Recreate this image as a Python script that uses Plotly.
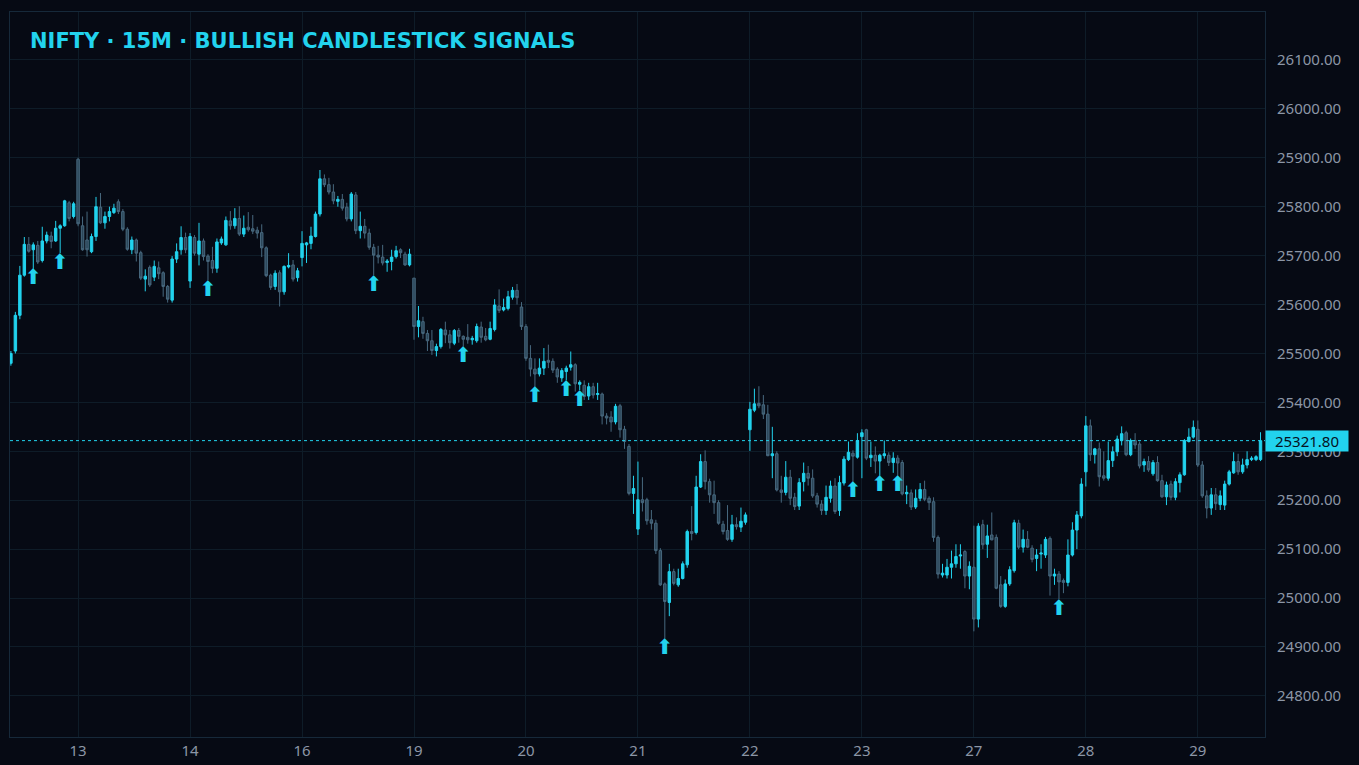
import plotly.graph_objects as go

# ---- data (NIFTY 15-minute candles) ----
day_labels = ["13", "14", "16", "19", "20", "21", "22", "23", "27", "28", "29"]
first_day_offset = 15      # candles of the partial session before the 13th
candles_per_day = 25

opens = [25480,25505,25578,25660,25723,25712,25721,25690,25730,25740,25730,25756,25761,25808,25780,
 25897,25761,25732,25708,25739,25799,25767,25780,25788,25810,25790,25754,25712,25732,25706,25652,25676,25656,25675,25665,25637,25609,25693,25712,25737,
 25648,25737,25703,25730,25699,25690,25674,25726,25722,25771,25761,25776,25744,25758,25755,25752,25747,25716,25660,25637,25665,25626,25677,25681,25655,
 25696,25722,25725,25739,25785,25857,25845,25830,25811,25815,25799,25775,25824,25751,25760,25746,25717,25701,25697,25686,25688,25698,25712,25703,25681,
 25654,25555,25565,25541,25526,25506,25514,25548,25538,25521,25547,25535,25533,25528,25526,25554,25535,25529,25549,25597,25589,25592,25615,25629,25595,
 25555,25490,25468,25458,25470,25486,25484,25468,25450,25463,25472,25477,25437,25435,25413,25432,25416,25417,25372,25370,25360,25393,25345,25310,25214,
 25141,25201,25201,25160,25153,25097,25029,24991,25054,25027,25040,25068,25136,25134,25227,25279,25238,25211,25195,25151,25138,25120,25150,25145,25155,
 25344,25384,25398,25395,25376,25291,25295,25221,25216,25247,25206,25188,25238,25255,25245,25209,25192,25179,25204,25229,25179,25235,25283,25296,25288,
 25330,25344,25287,25292,25280,25291,25292,25277,25286,25277,25213,25215,25186,25204,25222,25204,25197,25124,25047,25047,25063,25070,25086,25095,25045,
 25063,24957,25150,25110,25129,25124,25027,24983,25029,25056,25153,25104,25120,25102,25081,25090,25088,25122,25045,25049,25036,25032,25088,25139,25168,
 25258,25352,25293,25305,25250,25245,25281,25299,25322,25338,25293,25322,25315,25272,25279,25254,25277,25240,25207,25233,25206,25236,25252,25320,25329,
 25345,25272,25209,25184,25211,25191,25190,25233,25256,25279,25258,25272,25283,25283,25283]

highs = [25505,25585,25679,25738,25738,25727,25730,25759,25749,25749,25771,25764,25814,25812,25810,
 25900,25780,25790,25745,25820,25828,25790,25800,25806,25815,25795,25758,25739,25735,25710,25672,25680,25690,25688,25668,25640,25699,25725,25760,25747,
 25746,25742,25767,25735,25703,25718,25735,25739,25780,25791,25797,25801,25782,25789,25783,25759,25764,25719,25663,25670,25670,25680,25705,25691,25675,
 25750,25728,25759,25790,25875,25866,25859,25846,25822,25826,25808,25830,25830,25790,25775,25755,25724,25720,25722,25693,25712,25720,25715,25708,25714,
 25654,25597,25575,25548,25548,25520,25552,25565,25548,25550,25552,25537,25560,25536,25561,25565,25552,25565,25611,25631,25612,25628,25636,25642,25605,
 25560,25517,25490,25490,25511,25518,25490,25472,25470,25475,25504,25480,25445,25445,25440,25440,25440,25420,25378,25382,25397,25397,25352,25315,25250,
 25279,25247,25205,25180,25160,25102,25032,25070,25060,25060,25075,25140,25188,25250,25294,25302,25244,25240,25200,25158,25190,25170,25165,25185,25175,
 25401,25428,25433,25415,25395,25350,25300,25250,25280,25262,25215,25245,25277,25270,25263,25215,25200,25230,25240,25245,25250,25290,25320,25302,25337,
 25345,25346,25320,25310,25295,25322,25298,25298,25292,25282,25230,25222,25222,25235,25240,25208,25206,25128,25070,25080,25097,25110,25110,25098,25075,
 25148,25153,25160,25150,25175,25130,25045,25038,25065,25160,25160,25140,25137,25108,25100,25110,25125,25126,25060,25055,25040,25120,25155,25178,25245,
 25372,25365,25307,25318,25300,25320,25310,25332,25351,25342,25326,25337,25320,25285,25290,25282,25290,25252,25238,25240,25245,25257,25325,25347,25363,
 25363,25280,25220,25225,25225,25220,25240,25262,25298,25295,25285,25300,25290,25292,25339]

lows = [25475,25500,25570,25657,25706,25673,25683,25686,25725,25715,25728,25705,25759,25770,25776,
 25760,25710,25698,25705,25730,25765,25755,25770,25785,25785,25750,25710,25703,25688,25650,25627,25636,25648,25652,25616,25604,25604,25685,25702,25705,
 25634,25700,25680,25690,25650,25664,25665,25722,25720,25753,25755,25740,25738,25749,25744,25735,25697,25656,25630,25630,25596,25620,25674,25647,25647,
 25678,25685,25713,25737,25780,25840,25825,25805,25800,25792,25770,25770,25744,25735,25735,25712,25660,25684,25680,25667,25670,25694,25695,25679,25678,
 25528,25533,25530,25505,25497,25494,25510,25521,25510,25517,25522,25514,25520,25518,25522,25522,25525,25527,25545,25583,25586,25588,25610,25600,25548,
 25485,25453,25432,25453,25456,25470,25460,25440,25442,25445,25465,25422,25425,25405,25405,25408,25405,25355,25355,25340,25355,25328,25305,25210,25172,
 25129,25177,25150,25140,25090,25025,24917,24963,25026,25023,25038,25062,25118,25130,25225,25222,25195,25172,25150,25130,25117,25115,25140,25135,25150,
 25301,25380,25388,25366,25290,25245,25218,25195,25210,25190,25180,25180,25218,25230,25205,25185,25170,25170,25195,25172,25168,25230,25280,25238,25285,
 25245,25282,25268,25255,25250,25285,25270,25256,25250,25210,25192,25180,25182,25198,25198,25180,25115,25040,25042,25040,25040,25062,25060,25020,25018,
 24932,24940,25100,25082,25118,25018,24980,24980,25025,25052,25100,25093,25102,25073,25055,25060,25082,25005,25027,24998,25010,25024,25085,25100,25163,
 25228,25280,25275,25228,25240,25240,25268,25290,25312,25290,25290,25305,25265,25258,25258,25250,25238,25205,25190,25200,25200,25216,25250,25318,25326,
 25268,25205,25163,25170,25180,25180,25180,25230,25254,25252,25254,25265,25280,25280,25280]

closes = [25500,25578,25660,25723,25709,25722,25687,25730,25742,25729,25756,25761,25812,25776,25806,
 25765,25712,25712,25739,25800,25767,25780,25790,25797,25790,25754,25713,25732,25705,25654,25658,25640,25678,25663,25637,25611,25693,25708,25737,25712,
 25739,25705,25730,25698,25688,25674,25728,25734,25772,25761,25776,25744,25756,25753,25750,25746,25716,25659,25635,25664,25626,25678,25680,25652,25669,
 25725,25726,25740,25785,25857,25845,25830,25812,25815,25797,25775,25826,25751,25760,25746,25717,25701,25697,25685,25689,25697,25710,25706,25681,25703,
 25555,25567,25541,25526,25506,25514,25549,25538,25522,25547,25535,25529,25528,25531,25555,25533,25528,25551,25599,25588,25594,25616,25629,25614,25555,
 25490,25468,25458,25470,25484,25482,25466,25452,25465,25470,25477,25438,25441,25412,25432,25415,25418,25372,25368,25360,25392,25344,25320,25214,25224,
 25201,25195,25158,25153,25097,25027,24993,25054,25030,25040,25070,25136,25132,25227,25279,25238,25211,25195,25153,25136,25120,25150,25146,25157,25170,
 25386,25397,25393,25376,25291,25295,25221,25216,25247,25204,25187,25236,25255,25245,25209,25192,25179,25206,25229,25177,25236,25284,25298,25290,25322,
 25338,25286,25292,25280,25292,25295,25277,25286,25276,25213,25216,25186,25204,25222,25202,25195,25124,25049,25051,25063,25070,25085,25088,25045,25065,
 24957,25147,25109,25127,25119,25020,24983,25029,25058,25154,25104,25120,25104,25079,25088,25092,25120,25045,25049,25033,25032,25088,25139,25170,25233,
 25352,25293,25305,25248,25245,25281,25299,25325,25336,25293,25322,25313,25270,25279,25262,25277,25240,25207,25231,25206,25238,25252,25322,25329,25349,
 25272,25209,25184,25211,25193,25209,25233,25258,25279,25258,25272,25283,25286,25289,25321.8]

# candles that carry a bullish-pattern signal
signal_idx = [5, 11, 44, 81, 101, 117, 124, 127, 146, 188, 194, 198, 234]

# ---- styling ----
BG = "#060a14"
CYAN = "#22d3ee"
BEAR_FILL = "#2b4659"
BEAR_LINE = "#48697f"
GRID = "#0e1c28"
AXLINE = "#16293a"
TICK = "#8c96a6"
FONT = "Noto Sans"
W, H = 1359, 765

n = len(closes)
xs = list(range(n))
tick_pos = [first_day_offset + k * candles_per_day for k in range(len(day_labels))]

fig = go.Figure()
fig.add_trace(go.Candlestick(
    x=xs, open=opens, high=highs, low=lows, close=closes,
    increasing=dict(line=dict(color=CYAN, width=1), fillcolor=CYAN),
    decreasing=dict(line=dict(color=BEAR_LINE, width=1), fillcolor=BEAR_FILL),
    whiskerwidth=0, showlegend=False, hoverinfo="skip",
))

sig_x = [xs[i] for i in signal_idx]
sig_y = [lows[i] - 21 for i in signal_idx]
fig.add_trace(go.Scatter(
    x=sig_x, y=sig_y, mode="text", text=["⬆"] * len(sig_x),
    textposition="middle center",
    textfont=dict(family="DejaVu Sans", size=21, color=CYAN),
    showlegend=False, hoverinfo="skip",
))

last = closes[-1]
fig.add_hline(y=last, line=dict(color=CYAN, width=1, dash="dot"))
fig.add_annotation(
    x=1, xref="paper", xanchor="left", y=last, yref="y", yanchor="middle",
    text=f"{last:.2f}", showarrow=False, bgcolor=CYAN, borderpad=2,
    width=78, height=16, align="center",
    font=dict(family=FONT, size=15, color="#06121f"),
)

fig.update_layout(
    width=W, height=H, boxgap=0.22,
    paper_bgcolor=BG, plot_bgcolor=BG,
    margin=dict(l=10, r=94, t=12, b=28, autoexpand=False),
    title=dict(
        text="NIFTY · 15M · BULLISH CANDLESTICK SIGNALS",
        x=30 / W, xanchor="left", xref="container",
        y=1 - 41 / H, yanchor="middle", yref="container",
        font=dict(family="DejaVu Sans", size=21, color=CYAN, weight="bold"),
    ),
    xaxis=dict(
        range=[-0.2, 280], rangeslider=dict(visible=False),
        tickvals=tick_pos, ticktext=day_labels, automargin=False,
        showgrid=True, gridcolor=GRID, gridwidth=1,
        showline=True, linecolor=AXLINE, mirror=True, zeroline=False,
        tickfont=dict(family=FONT, size=15, color=TICK), ticks="",
    ),
    yaxis=dict(
        side="right", range=[24716, 26198], dtick=100, tick0=0,
        tickformat=".2f", showgrid=True, gridcolor=GRID, gridwidth=1,
        showline=True, linecolor=AXLINE, mirror=True, zeroline=False,
        tickfont=dict(family=FONT, size=15, color=TICK), ticks="",
        ticklabelstandoff=8, automargin=False,
    ),
)

fig.write_html(
    "out.html",
    config={"displayModeBar": False},
    post_script="document.body.style.margin='0';document.body.style.background='%s';" % BG,
)
